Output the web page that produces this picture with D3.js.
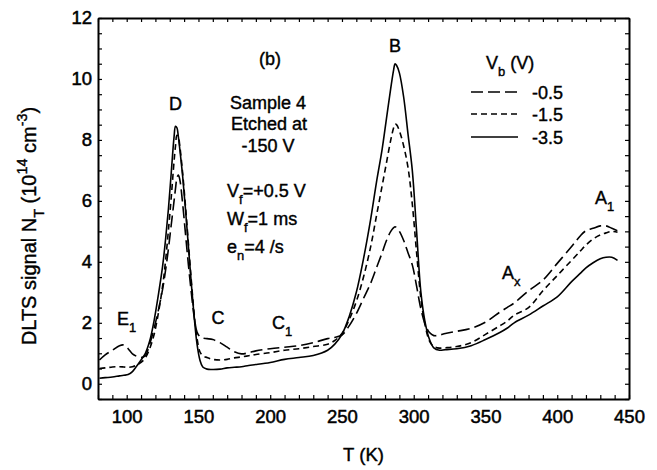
<!DOCTYPE html>
<html>
<head>
<meta charset="utf-8">
<script src="https://cdn.jsdelivr.net/npm/d3@7"></script>
<style>
  body { margin: 0; background: #fff; }
  svg { display: block; }
  text { font-family: "Liberation Sans", Arial, sans-serif; fill: #000; }
</style>
</head>
<body>
<svg id="chart" width="657" height="470"></svg>
<script>
// ---- data ----
const temperatures = [81, 85, 90, 95, 98, 101, 104, 107, 110, 113, 116, 119, 122, 125, 127, 129, 131, 133, 134, 135, 136, 137, 139, 141, 143, 145, 147, 149, 151, 153, 156, 160, 165, 170, 175, 180, 185, 190, 200, 210, 220, 230, 240, 245, 250, 255, 260, 265, 270, 274, 278, 281, 284, 286, 287, 288, 290, 293, 296, 299, 302, 305, 308, 311, 314, 318, 322, 330, 340, 350, 360, 365, 370, 380, 390, 400, 410, 416, 420, 425, 430, 434, 438, 442];

const signalVb05 = [0.78, 0.95, 1.10, 1.25, 1.27, 1.15, 0.98, 0.90, 0.86, 0.92, 1.30, 1.80, 2.40, 3.10, 3.70, 4.40, 5.20, 6.00, 6.40, 6.75, 6.85, 6.70, 5.90, 4.90, 3.90, 3.00, 2.20, 1.70, 1.55, 1.50, 1.48, 1.45, 1.35, 1.20, 1.05, 0.98, 1.02, 1.08, 1.15, 1.20, 1.25, 1.35, 1.48, 1.52, 1.60, 1.90, 2.30, 2.80, 3.30, 3.80, 4.30, 4.70, 5.00, 5.12, 5.15, 5.12, 5.00, 4.70, 4.30, 3.90, 3.20, 2.45, 1.95, 1.68, 1.58, 1.60, 1.65, 1.72, 1.82, 2.02, 2.35, 2.50, 2.65, 3.05, 3.40, 3.95, 4.50, 4.85, 5.02, 5.10, 5.18, 5.18, 5.10, 5.02];

const signalVb15 = [0.50, 0.52, 0.55, 0.56, 0.55, 0.54, 0.56, 0.62, 0.70, 0.85, 1.15, 1.60, 2.30, 3.20, 4.00, 5.00, 6.10, 7.30, 7.80, 8.15, 8.10, 7.80, 6.90, 5.80, 4.60, 3.40, 2.30, 1.50, 1.05, 0.92, 0.86, 0.80, 0.78, 0.80, 0.85, 0.88, 0.92, 0.96, 1.02, 1.10, 1.15, 1.22, 1.30, 1.42, 1.65, 2.10, 2.70, 3.50, 4.50, 5.50, 6.50, 7.25, 8.00, 8.40, 8.52, 8.50, 8.30, 7.80, 7.10, 5.90, 4.30, 2.80, 1.90, 1.40, 1.22, 1.17, 1.18, 1.22, 1.35, 1.62, 1.90, 2.05, 2.25, 2.50, 3.05, 3.55, 4.05, 4.35, 4.55, 4.75, 4.88, 4.95, 5.00, 4.97];

const signalVb35 = [0.18, 0.20, 0.22, 0.26, 0.28, 0.30, 0.40, 0.58, 0.78, 1.00, 1.40, 2.05, 2.90, 3.85, 4.70, 5.70, 6.90, 8.10, 8.45, 8.40, 8.10, 7.70, 6.80, 5.70, 4.50, 3.30, 2.20, 1.30, 0.78, 0.55, 0.48, 0.47, 0.48, 0.52, 0.54, 0.56, 0.60, 0.63, 0.70, 0.80, 0.86, 0.93, 1.10, 1.30, 1.62, 2.20, 3.00, 4.10, 5.40, 6.60, 7.70, 8.70, 9.70, 10.30, 10.50, 10.45, 10.20, 9.40, 8.20, 7.00, 5.00, 3.00, 2.00, 1.45, 1.18, 1.10, 1.12, 1.15, 1.25, 1.45, 1.68, 1.82, 2.00, 2.25, 2.55, 2.85, 3.35, 3.62, 3.80, 3.97, 4.10, 4.15, 4.15, 4.05];

const seriesNames = ["-0.5", "-1.5", "-3.5"];
const seriesDash = ["12,5", "6,4", null];
const xMajorTicks = [100, 150, 200, 250, 300, 350, 400, 450];
const yMajorTicks = [0, 2, 4, 6, 8, 10, 12];

// ---- layout ----
const svg = d3.select("#chart");
const L = 98, R = 629, T = 18, B = 399;
const x = d3.scaleLinear().domain([80, 450]).range([L, R]);
const y = d3.scaleLinear().domain([-0.5, 12]).range([B, T]);

const minorX = d3.range(80, 451, 10);
const minorY = d3.range(-0.5, 12.01, 0.5);

function styleAxis(g) {
  g.select(".domain").attr("stroke", "#000").attr("stroke-width", 2);
  g.selectAll(".tick line").attr("stroke", "#000").attr("stroke-width", 1.2);
  g.selectAll(".tick text").attr("font-size", 18.5).attr("font-family", "'Liberation Sans', Arial, sans-serif")
    .attr("stroke", "#000").attr("stroke-width", 0.5);
}

svg.append("g").attr("transform", `translate(0,${B})`)
  .call(d3.axisBottom(x).tickValues(minorX).tickSizeInner(-4).tickSizeOuter(0).tickPadding(11)
    .tickFormat(d => xMajorTicks.includes(d) ? d : ""))
  .call(styleAxis);
svg.append("g").attr("transform", `translate(0,${T})`)
  .call(d3.axisTop(x).tickValues(minorX).tickSizeInner(-4).tickSizeOuter(0).tickFormat(""))
  .call(styleAxis);
svg.append("g").attr("transform", `translate(${L},0)`)
  .call(d3.axisLeft(y).tickValues(minorY).tickSizeInner(-4).tickSizeOuter(0).tickPadding(6)
    .tickFormat(d => yMajorTicks.includes(d) ? d : ""))
  .call(styleAxis);
svg.append("g").attr("transform", `translate(${R},0)`)
  .call(d3.axisRight(y).tickValues(minorY).tickSizeInner(-4).tickSizeOuter(0).tickFormat(""))
  .call(styleAxis);

// ---- curves ----
const allSeries = [signalVb05, signalVb15, signalVb35];
const line = d3.line()
  .x((d, i) => x(temperatures[i]))
  .y(d => y(d))
  .curve(d3.curveCatmullRom.alpha(0.5));

allSeries.forEach((vals, k) => {
  svg.append("path")
    .attr("d", line(vals))
    .attr("fill", "none")
    .attr("stroke", "#000")
    .attr("stroke-width", 1.6)
    .attr("stroke-dasharray", seriesDash[k]);
});

// ---- text helpers ----
function rich(parent, xPos, yPos, parts, anchor, size) {
  const fs = size || 18;
  const t = parent.append("text").attr("x", xPos).attr("y", yPos)
    .attr("font-size", fs).attr("text-anchor", anchor || "start")
    .attr("stroke", "#000").attr("stroke-width", 0.4);
  let shift = 0;
  parts.forEach(p => {
    const s = t.append("tspan").text(p[0]);
    let target = 0;
    if (p[1] === "sub") { target = fs * 0.39; s.attr("font-size", fs * 0.72); }
    else if (p[1] === "sup") { target = -fs * 0.45; s.attr("font-size", fs * 0.72); }
    s.attr("dy", target - shift);
    shift = target;
  });
  return t;
}

// annotations
rich(svg, 270, 64.5, [["(b)"]], "middle");
rich(svg, 175.5, 109.5, [["D"]], "middle");
rich(svg, 268, 108.5, [["Sample 4"]], "middle");
rich(svg, 269, 130, [["Etched at"]], "middle");
rich(svg, 268, 152, [["-150 V"]], "middle");
rich(svg, 227, 196.5, [["V"], ["f", "sub"], ["=+0.5 V"]]);
rich(svg, 227, 224.5, [["W"], ["f", "sub"], ["=1 ms"]]);
rich(svg, 227, 253, [["e"], ["n", "sub"], ["=4 /s"]]);
rich(svg, 395, 51.5, [["B"]], "middle");
rich(svg, 117, 324.5, [["E"], ["1", "sub"]]);
rich(svg, 218, 323.5, [["C"]], "middle");
rich(svg, 272, 328.5, [["C"], ["1", "sub"]]);
rich(svg, 502, 278.5, [["A"], ["x", "sub"]]);
rich(svg, 595, 203.5, [["A"], ["1", "sub"]]);

// legend
rich(svg, 486, 68.5, [["V"], ["b", "sub"], [" (V)"]]);
const legY = [92, 114, 137];
seriesNames.forEach((name, k) => {
  svg.append("line").attr("x1", 471).attr("x2", 518).attr("y1", legY[k]).attr("y2", legY[k])
    .attr("stroke", "#000").attr("stroke-width", 1.6).attr("stroke-dasharray", seriesDash[k]);
  rich(svg, 532, legY[k] + 6.5, [[name]]);
});

// axis titles
rich(svg, (L + R) / 2, 461, [["T (K)"]], "middle", 18.5);
const yt = rich(svg, 0, 0, [["DLTS signal N"], ["T", "sub"], ["  (10"], ["14", "sup"], [" cm"], ["-3", "sup"], [")"]], "middle", 20);
yt.attr("transform", "translate(36,226) rotate(-90)");
</script>
</body>
</html>
